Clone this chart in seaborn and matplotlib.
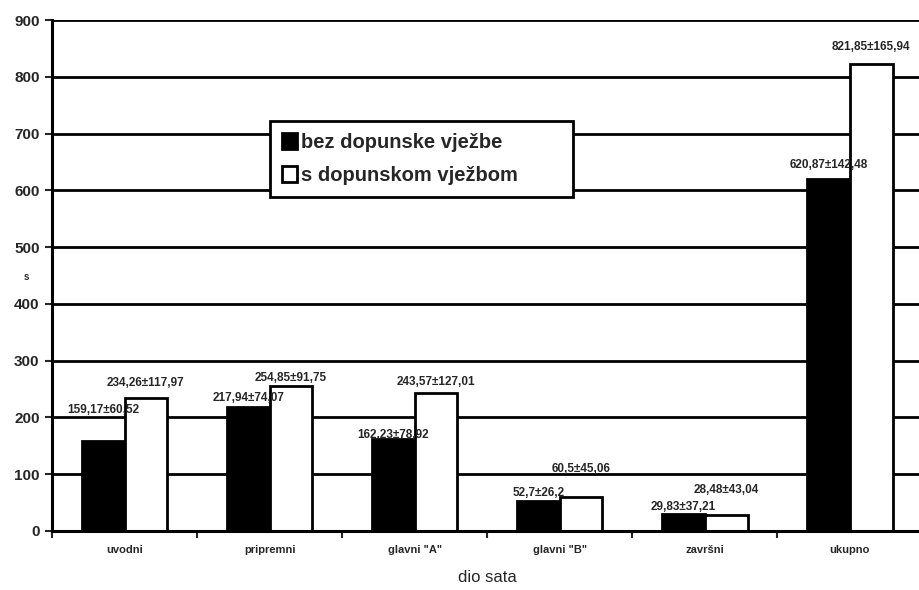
import numpy as np
import pandas as pd
import matplotlib
matplotlib.use("Agg")
import matplotlib.pyplot as plt
import seaborn as sns

sns.set_style("white")
plt.rcParams['font.family'] = ['Liberation Sans', 'DejaVu Sans']

categories = ['uvodni', 'pripremni', 'glavni "A"', 'glavni "B"', 'završni', 'ukupno']
groups = ['bez dopunske vježbe', 's dopunskom vježbom']
bez_mean = [159.17, 217.94, 162.23, 52.7, 29.83, 620.87]
bez_sd = ['60,52', '74,07', '78,92', '26,2', '37,21', '142,48']
s_mean = [234.26, 254.85, 243.57, 60.5, 28.48, 821.85]
s_sd = ['117,97', '91,75', '127,01', '45,06', '43,04', '165,94']

# label offsets above bar tops (pixels), as placed in the original
bez_dy = [31, 9, 4, 8, 7, 14]
s_dy = [15, 8, 11, 28, 25, 17]

df = pd.DataFrame({
    'dio': categories * 2,
    'grupa': [groups[0]] * 6 + [groups[1]] * 6,
    'vrijeme': bez_mean + s_mean,
})

fig = plt.figure(figsize=(9.19, 5.9), dpi=100)
ax = fig.add_axes([0.0566, 0.1, 0.947, 0.866])

sns.barplot(data=df, x='dio', y='vrijeme', hue='grupa', palette=['black', 'white'],
            edgecolor='black', linewidth=2, width=0.59, ax=ax, legend=True)

ax.set_ylim(0, 900)
ax.set_xlim(-0.5, 5.5)
ax.set_yticks(np.arange(0, 901, 100))
ax.yaxis.grid(True, color='black', linewidth=2)
ax.set_axisbelow(True)
for sp in ['top', 'right']:
    ax.spines[sp].set_visible(False)
for sp in ['left', 'bottom']:
    ax.spines[sp].set_linewidth(2.2)
    ax.spines[sp].set_color('black')

ax.tick_params(axis='y', length=5, width=1.5, direction='out', left=True,
               labelsize=11, pad=4)
for t in ax.get_yticklabels():
    t.set_fontweight('bold')
ax.set_xticks(range(len(categories)))
ax.set_xticklabels(categories, fontsize=8, fontweight='bold')
ax.tick_params(axis='x', which='major', length=0, pad=10)
ax.set_xticks(np.arange(-0.5, 6.0, 1.0), minor=True)
ax.tick_params(axis='x', which='minor', length=5, width=1.5, direction='out', bottom=True)

ax.set_xlabel('dio sata', fontsize=12, labelpad=11)
ax.set_ylabel('s', fontsize=7, fontweight='bold', rotation=0)
ax.yaxis.set_label_coords(-0.03, 0.487)

# value labels
for cont, means, sds, dys in zip(ax.containers, [bez_mean, s_mean], [bez_sd, s_sd], [bez_dy, s_dy]):
    for bar, m, sd, dy in zip(cont, means, sds, dys):
        txt = f"{m:g}".replace('.', ',') + '±' + sd
        ax.annotate(txt, (bar.get_x() + bar.get_width() / 2, bar.get_height()),
                    xytext=(0, dy * 0.72), textcoords='offset points', ha='center', va='center',
                    fontsize=8.5, fontweight='bold')

leg = ax.legend(loc='lower left', bbox_to_anchor=(0.294, 0.666, 0.329, 0.122),
                bbox_transform=fig.transFigure, mode='expand', frameon=True,
                fancybox=False, framealpha=1, edgecolor='black', handlelength=0.75,
                handleheight=0.85, handletextpad=0.2, borderpad=0.6, labelspacing=0.7,
                borderaxespad=0, prop={'weight': 'bold', 'size': 14.5})
leg.get_frame().set_linewidth(2)

fig.savefig('out.png', dpi=100)
